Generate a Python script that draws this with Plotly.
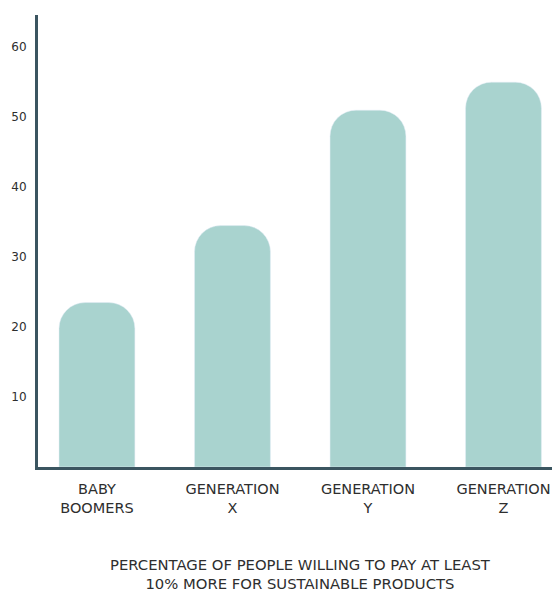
import plotly.graph_objects as go

categories = ["BABY<br>BOOMERS", "GENERATION<br>X", "GENERATION<br>Y", "GENERATION<br>Z"]
values = [23.5, 34.5, 51, 55]
y_ticks = [10, 20, 30, 40, 50, 60]
title_text = "PERCENTAGE OF PEOPLE WILLING TO PAY AT LEAST<br>10% MORE FOR SUSTAINABLE PRODUCTS"

bar_color = "#a9d3cf"
axis_color = "#3b5560"
text_color = "#2e2e2e"
font_family = "DejaVu Sans"

fig = go.Figure(go.Bar(x=list(range(len(categories))), y=values, marker_color=bar_color,
                       width=0.56, hoverinfo="skip"))

fig.update_layout(
    width=552, height=596,
    margin=dict(l=38, r=0, t=15, b=129),
    plot_bgcolor="white", paper_bgcolor="white",
    showlegend=False,
    barcornerradius=26,
    font=dict(family=font_family, color=text_color),
    xaxis=dict(
        range=[-0.435, 3.358],
        tickmode="array", tickvals=list(range(len(categories))), ticktext=categories,
        showgrid=False, zeroline=False,
        showline=True, linecolor=axis_color, linewidth=3,
        ticks="outside", ticklen=7, tickcolor="rgba(0,0,0,0)",
        tickfont=dict(size=14.5, family=font_family, color=text_color),
    ),
    yaxis=dict(
        range=[0, 64.6],
        tickmode="array", tickvals=y_ticks,
        showgrid=False, zeroline=False,
        showline=True, linecolor=axis_color, linewidth=3,
        ticks="", ticklabelstandoff=6,
        tickfont=dict(size=12, family=font_family, color=text_color),
    ),
    annotations=[dict(
        text=title_text, xref="paper", yref="paper", x=(300 - 38) / 514, y=-0.193,
        xanchor="center", yanchor="top", showarrow=False, align="center",
        font=dict(size=14.8, family=font_family, color=text_color),
    )],
)

fig.write_html("out.html")
